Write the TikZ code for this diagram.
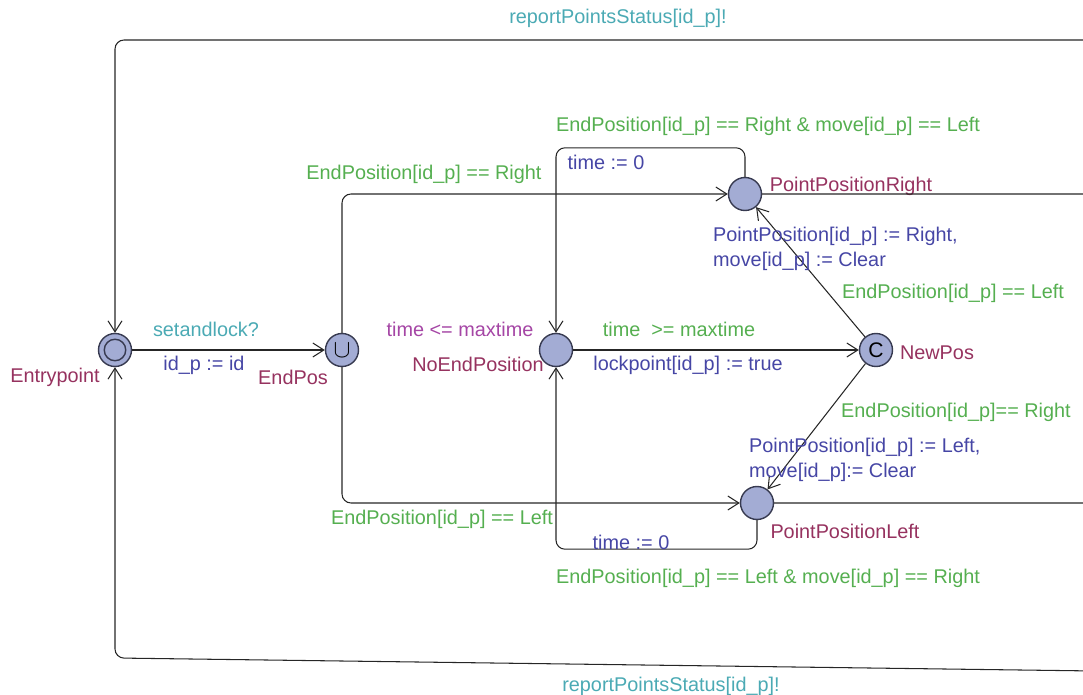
\documentclass[tikz,border=0pt]{standalone}
\usepackage{fontspec}
\setmainfont{Liberation Sans}
\usepackage{tikz}
\usetikzlibrary{arrows.meta,positioning}
\definecolor{locFill}{RGB}{163,172,212}
\definecolor{locDraw}{RGB}{55,58,80}
\definecolor{nameCol}{RGB}{150,50,95}
\definecolor{syncCol}{RGB}{75,170,180}
\definecolor{guardCol}{RGB}{85,175,80}
\definecolor{updCol}{RGB}{70,70,165}
\definecolor{invCol}{RGB}{165,70,165}

\begin{document}
\begin{tikzpicture}[
x=0.02cm, y=-0.02cm,
every node/.style={font=\fontsize{11.3}{14.2}\selectfont},
Location/.style={circle,draw=locDraw,fill=locFill,line width=0.8pt,minimum size=0.66cm,inner sep=0pt},
Edge/.style={draw=black!85,line width=0.6pt,rounded corners=0.18cm,-{Straight Barb[length=2.2mm,width=2.8mm]}},
LocName/.style={text=nameCol},
Sync/.style={text=syncCol},
Guard/.style={text=guardCol},
Update/.style={text=updCol,align=left},
Invariant/.style={text=invCol}
]
\useasboundingbox (0,0) rectangle (1083,695);
\clip (0,0) rectangle (1083,695);

% locations
\node[Location] (Entry) at (115,350) {};
\node[circle,draw=locDraw,line width=0.8pt,minimum size=0.43cm] (EntryIn) at (Entry) {};
\node[Location] (EndPos) at (342,350) {\Large$\cup$};
\node[Location] (NoEnd) at (556,350) {};
\node[Location] (NewPos) at (876,350) {\large C};
\node[Location] (PPR) at (745,194) {};
\node[Location] (PPL) at (757,503) {};

% nails outside the view
\coordinate (topR) at (1095,40);
\coordinate (botR) at (1095,671);
\coordinate (botL) at (115,658);

% location names and invariant
\node[LocName] (EntryName) at (55,377) {Entrypoint};
\node[LocName] (EndPosName) at (293,377) {EndPos};
\node[LocName] (NoEndName) at (478,364) {NoEndPosition};
\node[Invariant] (NoEndInv) at (460,329) {time <= maxtime};
\node[LocName] (NewPosName) at (937,353) {NewPos};
\node[LocName] (PPRName) at (851,186) {PointPositionRight};
\node[LocName] (PPLName) at (845,531) {PointPositionLeft};

% edges
\draw[Edge] (Entry) -- (EndPos);
\draw[Edge] (EndPos.north) |- (PPR.west);
\draw[Edge] (EndPos.south) |- (PPL.west);
\draw[Edge] (PPR.north) -- ++(0,-29) -| (NoEnd.north);
\draw[Edge] (PPL.south) -- ++(0,29) -| (NoEnd.south);
\draw[Edge] (NoEnd) -- (NewPos);
\draw[Edge] (NewPos) -- (PPR);
\draw[Edge] (NewPos) -- (PPL);
\draw[Edge] (PPR.east) -| (topR) -| (Entry.north);
\draw[Edge] (PPL.east) -| (botR) -- (botL) -- (Entry.south);

% edge labels
\node[Sync] (syncLock) at (206,329) {setandlock?};
\node[Update] (updId) at (204,365) {id\_p := id};
\node[Guard] (gRight) at (424,174) {EndPosition[id\_p] == Right};
\node[Guard] (gLeft) at (442,519) {EndPosition[id\_p] == Left};
\node[Guard] (gTopLoop) at (768,126) {EndPosition[id\_p] == Right \& move[id\_p] == Left};
\node[Update] (uTopLoop) at (606,162) {time := 0};
\node[Update] (uBotLoop) at (631,542) {time := 0};
\node[Guard] (gBotLoop) at (768,578) {EndPosition[id\_p] == Left \& move[id\_p] == Right};
\node[Guard] (gTime) at (679,329) {time\ \ >= maxtime};
\node[Update] (uLock) at (688,365) {lockpoint[id\_p] := true};
\node[Guard] (gNewRight) at (953,293) {EndPosition[id\_p] == Left};
\node[Update,anchor=west] (uNewRight) at (707,249) {PointPosition[id\_p] := Right,\\move[id\_p] := Clear};
\node[Guard] (gNewLeft) at (956,412) {EndPosition[id\_p]== Right};
\node[Update,anchor=west] (uNewLeft) at (743,460) {PointPosition[id\_p] := Left,\\move[id\_p]:= Clear};
\node[Sync] (repTop) at (618,18) {reportPointsStatus[id\_p]!};
\node[Sync] (repBot) at (671,686) {reportPointsStatus[id\_p]!};

\end{tikzpicture}
\end{document}
